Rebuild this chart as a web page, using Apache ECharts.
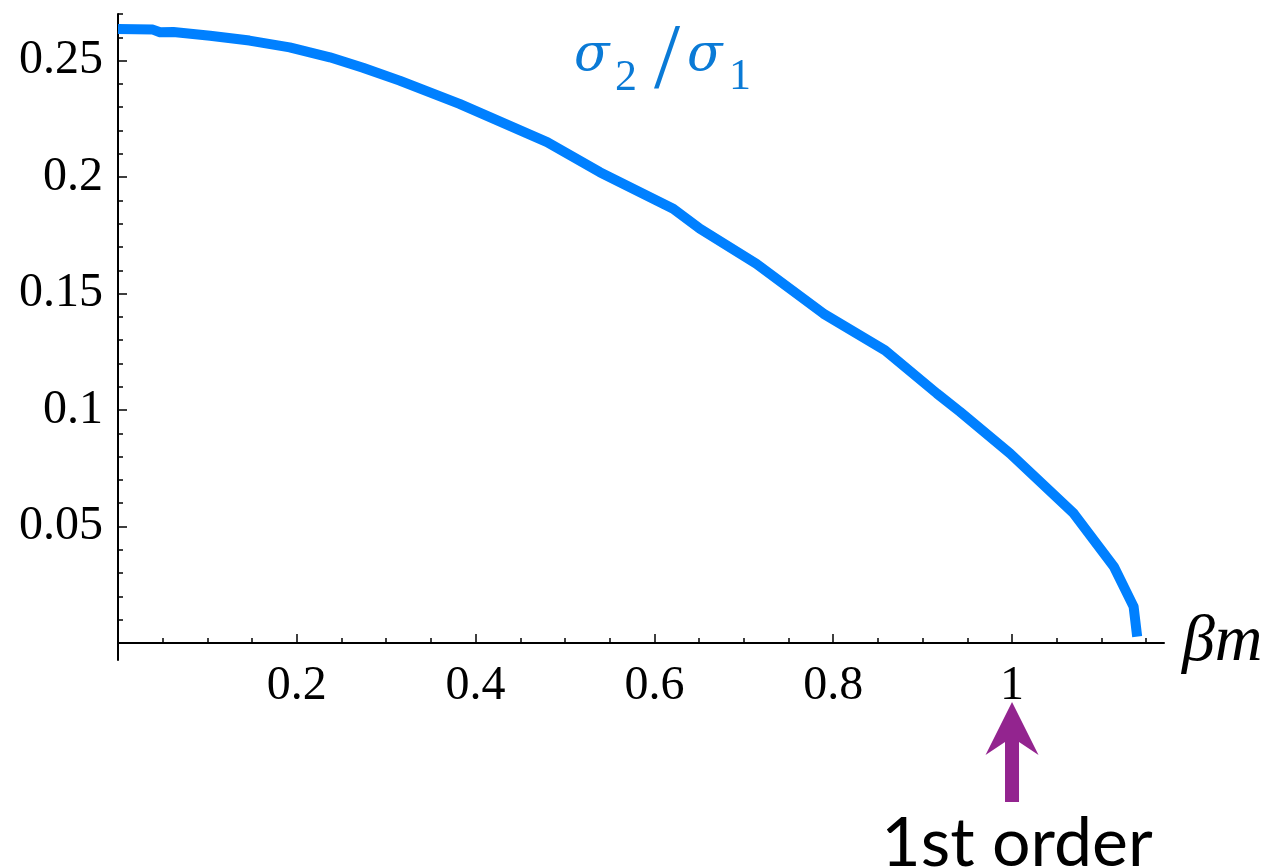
<!DOCTYPE html>
<html>
<head>
<meta charset="utf-8">
<script src="https://cdn.jsdelivr.net/npm/echarts@6/dist/echarts.min.js"></script>
<style>
    html, body { margin: 0; padding: 0; background: #fff; }
    #main { width: 1282px; height: 868px; }
</style>
</head>
<body>
<div id="main"></div>
<script>
// curve: beta*m against sigma2/sigma1
var betaM = [0, 0.039, 0.047, 0.062, 0.103, 0.147, 0.192, 0.237, 0.274, 0.315, 0.382, 0.48,
    0.539, 0.621, 0.651, 0.714, 0.789, 0.858, 0.916, 0.942, 0.998, 1.069, 1.114, 1.136, 1.140];
var ratio = [0.2636, 0.2633, 0.2622, 0.2623, 0.2607, 0.2586, 0.2557, 0.2514, 0.2469, 0.2414, 0.2314, 0.2150,
    0.2021, 0.1864, 0.1778, 0.1628, 0.1414, 0.1256, 0.1071, 0.0992, 0.0813, 0.0556, 0.0327, 0.0156, 0.0027];

var xMajorTicks = [0.2, 0.4, 0.6, 0.8, 1];
var xMinorTicks = [0.05, 0.1, 0.15, 0.25, 0.3, 0.35, 0.45, 0.5, 0.55, 0.65, 0.7, 0.75,
    0.85, 0.9, 0.95, 1.05, 1.1, 1.15];
var yMajorTicks = [0.05, 0.1, 0.15, 0.2, 0.25];
var yMinorTicks = [0.01, 0.02, 0.03, 0.04, 0.06, 0.07, 0.08, 0.09, 0.11, 0.12, 0.13, 0.14,
    0.16, 0.17, 0.18, 0.19, 0.21, 0.22, 0.23, 0.24, 0.26, 0.27];
var transitionX = 1;   // where the arrow "1st order" points

var serif = "'Liberation Serif', 'Times New Roman', serif";

var chart = echarts.init(document.getElementById('main'));

var points = [];
for (var i = 0; i < betaM.length; i++) {
    points.push([betaM[i], ratio[i]]);
}

var axisLineStyle = { color: '#000', width: 2 };
var tickLineStyle = { color: '#000', width: 1.5 };

var option = {
    animation: false,
    grid: {
        left: 118,
        right: 118,
        top: 14,
        bottom: 208
    },
    xAxis: [
        {
            type: 'value',
            min: 0,
            max: 1.17,
            position: 'bottom',
            axisLine: { onZero: true, onZeroAxisIndex: 0, lineStyle: axisLineStyle },
            axisTick: { inside: true, length: 9, customValues: xMajorTicks, lineStyle: tickLineStyle },
            axisLabel: { customValues: xMajorTicks, color: '#000', fontFamily: serif, fontSize: 48, margin: 2 },
            splitLine: { show: false },
            name: 'βm',
            nameLocation: 'end',
            nameGap: 18,
            nameTextStyle: { color: '#000', fontFamily: serif, fontStyle: 'italic', fontSize: 66 }
        },
        {
            type: 'value',
            min: 0,
            max: 1.17,
            position: 'bottom',
            axisLine: { show: false, onZero: true, onZeroAxisIndex: 0 },
            axisTick: { inside: true, length: 5, customValues: xMinorTicks, lineStyle: tickLineStyle },
            axisLabel: { show: false },
            splitLine: { show: false }
        }
    ],
    yAxis: [
        {
            type: 'value',
            min: -0.0073,
            max: 0.27,
            position: 'left',
            axisLine: { show: true, onZero: true, onZeroAxisIndex: 0, lineStyle: axisLineStyle },
            axisTick: { show: true, inside: true, length: 9, customValues: yMajorTicks, lineStyle: tickLineStyle },
            axisLabel: { customValues: yMajorTicks, color: '#000', fontFamily: serif, fontSize: 48, margin: 15 },
            splitLine: { show: false }
        },
        {
            type: 'value',
            min: -0.0073,
            max: 0.27,
            position: 'left',
            axisLine: { show: false, onZero: true, onZeroAxisIndex: 0 },
            axisTick: { show: true, inside: true, length: 5, customValues: yMinorTicks, lineStyle: tickLineStyle },
            axisLabel: { show: false },
            splitLine: { show: false }
        }
    ],
    series: [
        {
            name: 'sigma2/sigma1',
            type: 'line',
            xAxisIndex: 0,
            yAxisIndex: 0,
            data: points,
            showSymbol: false,
            smooth: false,
            lineStyle: { color: '#0080ff', width: 10, cap: 'butt', join: 'round' },
            z: 5
        }
    ]
};

chart.setOption(option);

// annotations: arrow at the transition and the curve label
var cx = chart.convertToPixel({ xAxisIndex: 0 }, transitionX);
var y0 = chart.convertToPixel({ yAxisIndex: 0 }, 0);
var tip = y0 + 59;
var blue = '#0a7ad6';
var greek = "'DejaVu Serif', serif";

chart.setOption({
    graphic: [
        {
            type: 'polygon',
            shape: {
                points: [
                    [cx, tip], [cx + 26.5, tip + 53], [cx + 7, tip + 40], [cx + 7, tip + 100],
                    [cx - 7, tip + 100], [cx - 7, tip + 40], [cx - 26.5, tip + 53]
                ]
            },
            style: { fill: '#93248f' }
        },
        {
            type: 'text',
            x: cx + 5,
            y: 844,
            style: { text: '1st order', fill: '#000', fontFamily: 'Lato', fontSize: 68, align: 'center', verticalAlign: 'middle' }
        },
        {
            type: 'text', x: 574, y: 56,
            style: { text: 'σ', fill: blue, fontFamily: greek, fontStyle: 'italic', fontSize: 52, align: 'left', verticalAlign: 'middle' }
        },
        {
            type: 'text', x: 615, y: 78,
            style: { text: '2', fill: blue, fontFamily: serif, fontSize: 44, align: 'left', verticalAlign: 'middle' }
        },
        {
            type: 'text', x: 654, y: 62,
            style: { text: '/', fill: blue, fontFamily: serif, fontSize: 94, align: 'left', verticalAlign: 'middle' }
        },
        {
            type: 'text', x: 687, y: 56,
            style: { text: 'σ', fill: blue, fontFamily: greek, fontStyle: 'italic', fontSize: 52, align: 'left', verticalAlign: 'middle' }
        },
        {
            type: 'text', x: 729, y: 77,
            style: { text: '1', fill: blue, fontFamily: serif, fontSize: 44, align: 'left', verticalAlign: 'middle' }
        }
    ]
});
</script>
</body>
</html>
